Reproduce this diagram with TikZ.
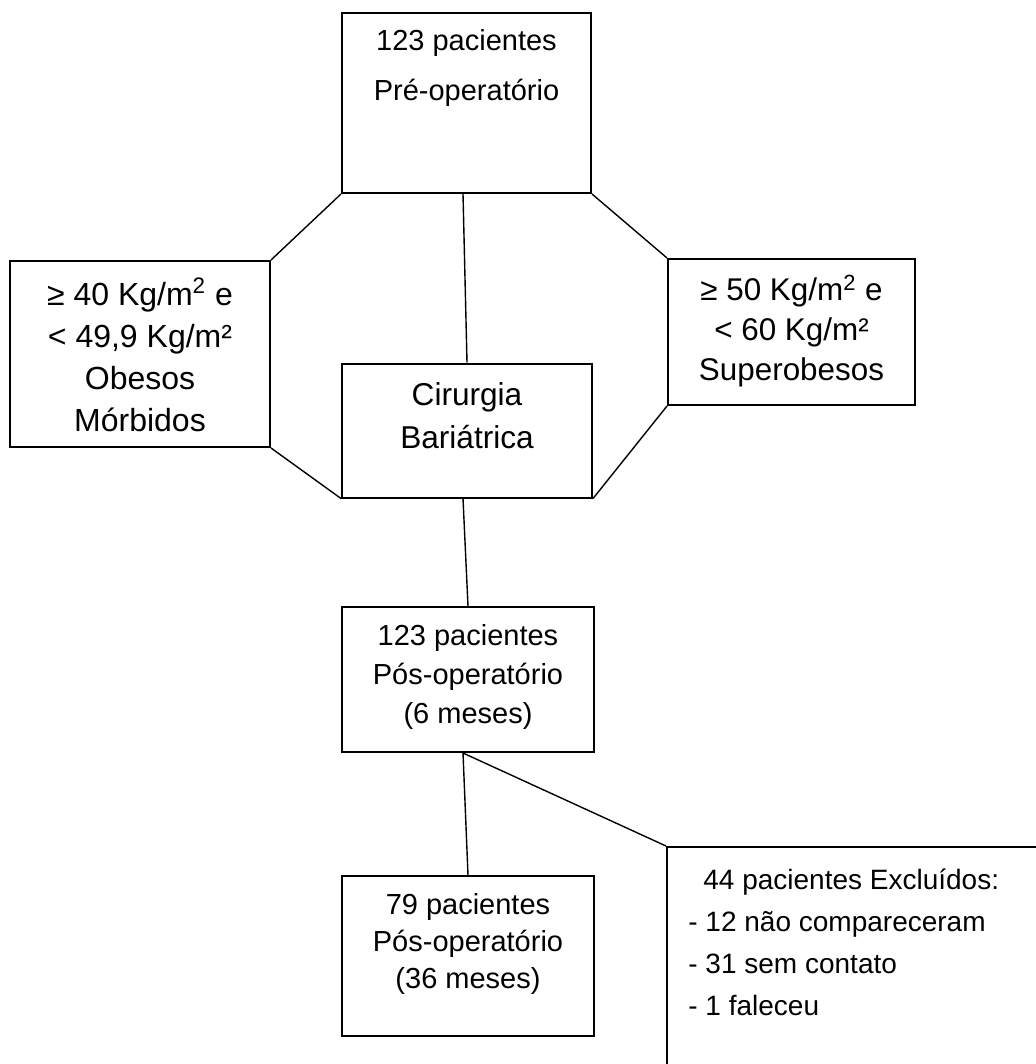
\documentclass[tikz,border=0pt]{standalone}
\usepackage{fontspec}
\setmainfont{Liberation Sans}
\begin{document}
\begin{tikzpicture}[x=0.5pt, y=-0.5pt,
    caixa/.style={draw, line width=1pt, inner sep=0pt},
    texto/.style={align=center, inner sep=0pt},
    ligacao/.style={line width=0.7pt}]
    \useasboundingbox (0,0) rectangle (1036,1064);
    \clip (0,0) rectangle (1036,1064);
    % caixas
    \node[caixa, minimum width=124.5pt, minimum height=90pt] (pre) at (466.5,103){};
    \node[texto, font=\fontsize{14.5pt}{25pt}\selectfont] (pretxt) at (466.5,68){123 pacientes\\Pré-operatório};
    \node[caixa, minimum width=130pt, minimum height=93pt] (obesos) at (140,354){};
    \node[texto, font=\fontsize{16pt}{21pt}\selectfont] (obesostxt) at (140,355){≥ 40 Kg/m\textsuperscript{2} e\\< 49,9 Kg/m²\\Obesos\\Mórbidos};
    \node[caixa, minimum width=123.5pt, minimum height=73pt] (super) at (791.5,332){};
    \node[texto, font=\fontsize{15.7pt}{20pt}\selectfont] (supertxt) at (791.5,331){≥ 50 Kg/m\textsuperscript{2} e\\< 60 Kg/m²\\Superobesos};
    \node[caixa, minimum width=125pt, minimum height=67pt] (cirurgia) at (467,430.5){};
    \node[texto, font=\fontsize{15.8pt}{21.5pt}\selectfont] (cirurgiatxt) at (467,416){Cirurgia\\Bariátrica};
    \node[caixa, minimum width=126pt, minimum height=72.5pt] (pos6) at (468,679.5){};
    \node[texto, font=\fontsize{14.5pt}{19.5pt}\selectfont] (pos6txt) at (468,677){123 pacientes\\Pós-operatório\\(6 meses)};
    \node[caixa, minimum width=126pt, minimum height=80pt] (pos36) at (468,956){};
    \node[texto, font=\fontsize{14.5pt}{18.5pt}\selectfont] (pos36txt) at (468,944){79 pacientes\\Pós-operatório\\(36 meses)};
    \node[caixa, minimum width=191.5pt, minimum height=116.5pt] (excl) at (858.5,963.5){};
    \node[texto, align=left, anchor=west, font=\fontsize{14pt}{21pt}\selectfont] (excltxt) at (688,942){\hspace*{7.5pt}44 pacientes Excluídos:\\- 12 não compareceram\\- 31 sem contato\\- 1 faleceu};
    % ligacoes
    \draw[ligacao](pre.south west) -- (obesos.north east);
    \draw[ligacao](pre.south east) -- (super.north west);
    \draw[ligacao]([xshift=-1.75pt]pre.south) -- (cirurgia.north);
    \draw[ligacao](obesos.south east) -- (cirurgia.south west);
    \draw[ligacao](super.south west) -- (cirurgia.south east);
    \draw[ligacao]([xshift=-2pt]cirurgia.south) -- (pos6.north);
    \draw[ligacao]([xshift=-2.5pt]pos6.south) -- (pos36.north);
    \draw[ligacao]([xshift=-2.5pt]pos6.south) -- (excl.north west);
\end{tikzpicture}
\end{document}
